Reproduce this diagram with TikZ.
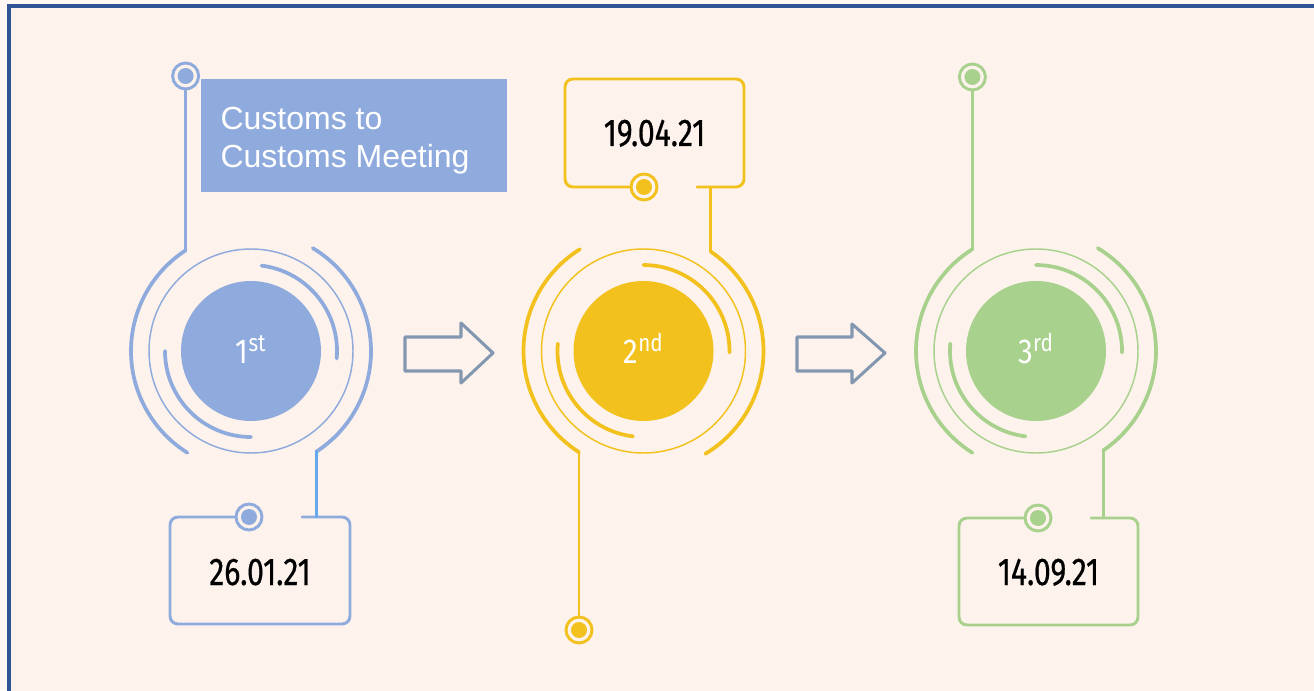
\documentclass[tikz,border=0pt]{standalone}
\usepackage{fontspec}
\setmainfont{Liberation Sans}
\newfontfamily\datefont[FakeStretch=0.78,FakeBold=0.6]{Fira Sans}
\newfontfamily\ordfont[FakeStretch=0.85]{Fira Sans}
\usetikzlibrary{calc}

\definecolor{stepblue}{HTML}{8FAADC}
\definecolor{linkblue}{HTML}{66A8EE}
\definecolor{stepgold}{HTML}{F2C11E}
\definecolor{stepgreen}{HTML}{A9D18E}
\definecolor{arrowgrey}{HTML}{8497B0}
\definecolor{framecol}{HTML}{2F5597}
\definecolor{outerbg}{HTML}{FEF7F3}
\definecolor{innerbg}{HTML}{FDF3EC}

\begin{document}
\begin{tikzpicture}[x=0.75pt,y=0.75pt,
  thinring/.style={line width=1.1pt},
  arcline/.style={line width=2.8pt, line cap=round},
  conn/.style={line width=2.2pt, line cap=round, line join=round},
  pinring/.style={circle, draw=#1, line width=2.2pt, minimum size=19.5pt, inner sep=0pt,
     path picture={\fill[#1] (path picture bounding box.center) circle[radius=6pt];}},
  disk/.style={circle, fill=#1, minimum size=105pt, inner sep=0pt},
  ordtext/.style={text=white, font=\ordfont\fontsize{26pt}{30pt}\selectfont, inner sep=0pt, anchor=base},
  datetext/.style={text=black, font=\datefont\fontsize{29pt}{32pt}\selectfont, inner sep=0pt, anchor=base},
  datebox/.style={conn, draw=#1, rounded corners=6pt},
  flowarrow/.style={draw=arrowgrey, line width=2.3pt, line join=round}
]
\useasboundingbox (0,0) rectangle (1314,690);
\clip (0,0) rectangle (1314,690);

% page and frame
\fill[outerbg] (0,0) rectangle (1314,690);
\draw[framecol, line width=3pt, fill=innerbg] (9,-20) rectangle (1340,684);

% ---------- step 1 ----------
\node[disk=stepblue] (d1) at (251,339) {};
\node[ordtext] (o1) at (251,326) {1\textsuperscript{st}};
\draw[stepblue, thinring] (d1.center) circle[radius=102];
\draw[stepblue, arcline] (d1.center) ++(83:86) arc[start angle=83, end angle=-5, radius=86];
\draw[stepblue, arcline] (d1.center) ++(180:86) arc[start angle=180, end angle=270, radius=86];
\draw[stepblue, arcline] (d1.center) ++(123:120) arc[start angle=123, end angle=238, radius=120];
\draw[stepblue, arcline] (d1.center) ++(59:120) arc[start angle=59, end angle=-57, radius=120];
\coordinate (a1t) at ($(d1.center)+(123:120)$);
\coordinate (a1b) at ($(d1.center)+(-57:120)$);
\node[pinring=stepblue] (p1) at (a1t |- 0,614) {};
\draw[stepblue, conn] (p1) -- (a1t);
\node[fill=stepblue, anchor=north west, minimum width=229.5pt, minimum height=84.75pt,
      inner sep=0pt] (lbl) at (201,611) {};
\node[anchor=west, align=left, text=white, inner sep=0pt,
      font=\fontsize{24pt}{28.5pt}\selectfont] (lbltext) at ([xshift=14.5pt,yshift=-3.5pt]lbl.west)
      {Customs to\\Customs Meeting};
\node[pinring=stepblue] (q1) at (249,173) {};
\draw[datebox=stepblue] (q1) -- (170,173) -- (170,66) -- (350,66) -- (350,173) -- (302,173);
\draw[linkblue, conn] (a1b) -- (a1b |- 0,173);
\node[datetext] (t1) at (260,105) {26.01.21};

% ---------- step 2 ----------
\node[disk=stepgold] (d2) at (643.5,339) {};
\node[ordtext] (o2) at (643.5,326) {2\textsuperscript{nd}};
\draw[stepgold, thinring] (d2.center) circle[radius=102];
\draw[stepgold, arcline] (d2.center) ++(90:86) arc[start angle=90, end angle=-1, radius=86];
\draw[stepgold, arcline] (d2.center) ++(175:86) arc[start angle=175, end angle=263, radius=86];
\draw[stepgold, arcline] (d2.center) ++(122:120) arc[start angle=122, end angle=237.5, radius=120];
\draw[stepgold, arcline] (d2.center) ++(56:120) arc[start angle=56, end angle=-59, radius=120];
\coordinate (a2t) at ($(d2.center)+(56:120)$);
\coordinate (a2b) at ($(d2.center)+(237.5:120)$);
\node[pinring=stepgold] (p2) at (a2b |- 0,60) {};
\draw[stepgold, conn] (a2b) -- (p2);
\node[pinring=stepgold] (q2) at (644,503) {};
\draw[datebox=stepgold] (q2) -- (565,503) -- (565,611) -- (744,611) -- (744,503) -- (697,503);
\draw[stepgold, conn] (a2t) -- (a2t |- 0,503);
\node[datetext] (t2) at (654.5,544) {19.04.21};

% ---------- step 3 ----------
\node[disk=stepgreen] (d3) at (1036,339) {};
\node[ordtext] (o3) at (1036,326) {3\textsuperscript{rd}};
\draw[stepgreen, thinring] (d3.center) circle[radius=102];
\draw[stepgreen, arcline] (d3.center) ++(90:86) arc[start angle=90, end angle=-1, radius=86];
\draw[stepgreen, arcline] (d3.center) ++(175:86) arc[start angle=175, end angle=263, radius=86];
\draw[stepgreen, arcline] (d3.center) ++(122:120) arc[start angle=122, end angle=238, radius=120];
\draw[stepgreen, arcline] (d3.center) ++(59:120) arc[start angle=59, end angle=-56, radius=120];
\coordinate (a3t) at ($(d3.center)+(122:120)$);
\coordinate (a3b) at ($(d3.center)+(-56:120)$);
\node[pinring=stepgreen] (p3) at (a3t |- 0,613) {};
\draw[stepgreen, conn] (p3) -- (a3t);
\node[pinring=stepgreen] (q3) at (1038,172) {};
\draw[datebox=stepgreen] (q3) -- (959,172) -- (959,65) -- (1138,65) -- (1138,172) -- (1091,172);
\draw[stepgreen, conn] (a3b) -- (a3b |- 0,172);
\node[datetext] (t3) at (1048.5,105) {14.09.21};

% ---------- flow arrows ----------
\draw[flowarrow] (405,353) -- (461,353) -- (461,367) -- (493,337) -- (461,307) -- (461,319) -- (405,319) -- cycle;
\draw[flowarrow] (797,353) -- (852,353) -- (852,366) -- (885,337) -- (852,307) -- (852,319) -- (797,319) -- cycle;
\end{tikzpicture}
\end{document}
